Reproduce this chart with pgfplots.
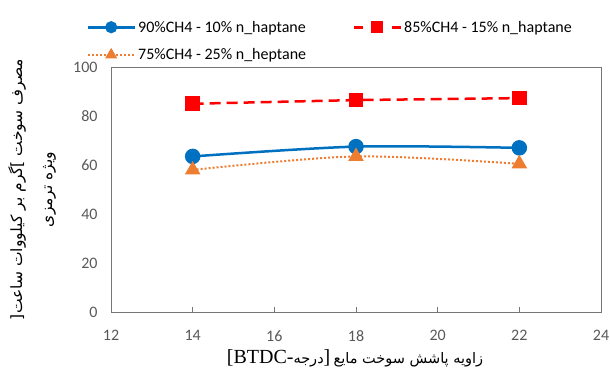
\documentclass[border=0pt]{standalone}
\usepackage{fontspec}
\setmainfont{Carlito}
\newfontfamily\arabicfont[Script=Arabic]{DejaVu Sans}
\newfontfamily\seriffont{Liberation Serif}
\usepackage{pgfplots}
\pgfplotsset{compat=1.18}
\TeXXeTstate=1
\definecolor{xblue}{HTML}{0070C0}
\definecolor{xred}{HTML}{FF0000}
\definecolor{xorange}{HTML}{ED7D31}
\definecolor{xgray}{HTML}{595959}
\definecolor{xframe}{HTML}{767676}
\begin{document}
\begin{tikzpicture}
\begin{axis}[
  scale only axis, width=490bp, height=245bp,
  xmin=12, xmax=24, ymin=0, ymax=100,
  xtick={12,14,...,24}, ytick={0,20,...,100},
  axis line style={draw=xframe, line width=0.7bp},
  tick align=inside, xtick pos=bottom, ytick pos=left,
  xtick style={draw=xframe, line width=0.7bp},
  ytick style={draw=none},
  major tick length=5bp,
  /pgf/number format/assume math mode=true,
  ticklabel style={font=\fontsize{16bp}{19bp}\selectfont, text=xgray},
  xticklabel style={yshift=-15bp},
  yticklabel style={xshift=-10bp},
  xlabel={{\fontsize{20bp}{22bp}\seriffont[BTDC-}{\arabicfont\beginR درجه\endR}{\fontsize{20bp}{22bp}\seriffont]} {\arabicfont\beginR زاویه پاشش سوخت مایع\endR}},
  xlabel style={font=\fontsize{14.5bp}{20bp}\selectfont, at={(axis description cs:0.498,0)}, anchor=center, yshift=-46bp},
  ylabel={[\beginR گرم بر کیلووات ساعت\endR] \beginR مصرف سوخت\endR\\\beginR ویژه ترمزی\endR},
  ylabel style={font=\arabicfont\fontsize{15.5bp}{30bp}\selectfont, align=center, at={(axis description cs:-0.105,0.5)}, anchor=south},
  legend columns=2,
  legend cell align=left,
  legend image code/.code={\draw[mark repeat=2,mark phase=2,#1,mark size=4.5bp] plot coordinates {(0bp,0bp) (23bp,0bp) (47bp,0bp)};},
  legend style={at={(axis description cs:-0.05,1.195)}, anchor=north west, draw=none, fill=none, inner sep=0pt,
    font=\fontsize{16bp}{19bp}\selectfont, row sep=12bp,
    nodes={inner sep=1.5bp},
    /tikz/every even column/.append style={column sep=45bp}},
]
\addplot[forget plot, xblue, line width=2.5bp, smooth, mark=*, mark size=6.5bp, mark options={solid, fill=xblue}]
  coordinates {(14,63.5) (18,67.5) (22,67)};
\addlegendimage{xblue, line width=3bp, mark=*, mark options={solid, fill=xblue}}
\addlegendentry{90\%CH4 - 10\% n\_haptane}
\addplot[forget plot, xred, line width=2.5bp, dash pattern=on 11bp off 6bp, mark=square*, mark size=6bp, mark options={solid, fill=xred}]
  coordinates {(14,85) (18,86.5) (22,87.3)};
\addlegendimage{xred, line width=3bp, dash pattern=on 9bp off 10bp, mark=square*, mark options={solid, fill=xred}}
\addlegendentry{85\%CH4 - 15\% n\_haptane}
\addplot[forget plot, xorange, line width=2bp, smooth, dash pattern=on 2bp off 2bp, mark=triangle*, mark size=7bp, mark options={solid, fill=xorange}]
  coordinates {(14,58) (18,63.5) (22,60.5)};
\addlegendimage{xorange, line width=2.5bp, dash pattern=on 2bp off 2bp, mark=triangle*, mark options={solid, fill=xorange}}
\addlegendentry{75\%CH4 - 25\% n\_heptane}
\coordinate (O) at (rel axis cs:0,0);
\end{axis}
\pgfresetboundingbox
\path (O) ++(-111bp,-60bp) rectangle ++(610bp,372bp);
\end{tikzpicture}
\end{document}
